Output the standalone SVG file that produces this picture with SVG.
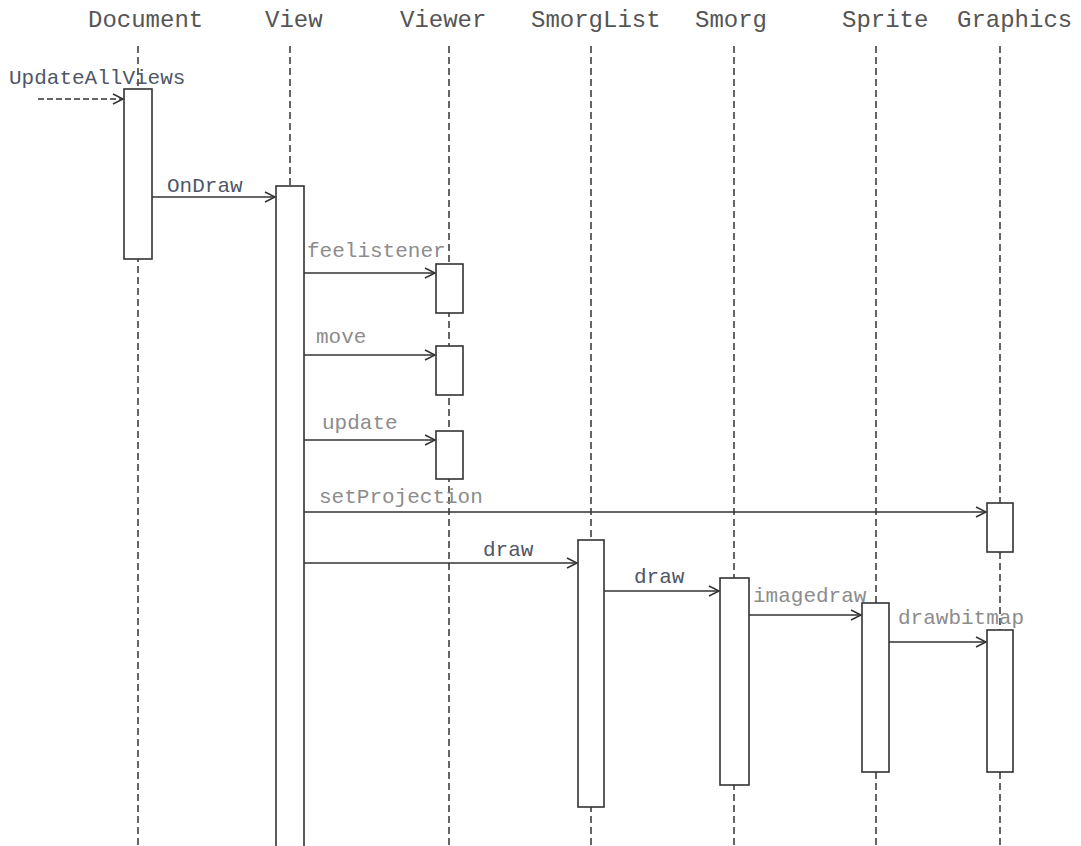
<svg xmlns="http://www.w3.org/2000/svg" width="1081" height="846" viewBox="0 0 1081 846">
<style>
.hdr{font-family:"Liberation Mono","Courier New",monospace;font-size:24px;fill:#555}
.lbl{font-family:"Liberation Mono","Courier New",monospace;font-size:21px}
.dk{fill:#4f5668}
.lt{fill:#8c8c8c}
.life{stroke:#333;stroke-width:1.5;stroke-dasharray:7,4;fill:none}
.act{fill:#fff;stroke:#333;stroke-width:1.6}
.msg{stroke:#333;stroke-width:1.5;fill:none;marker-end:url(#arr)}
.async{stroke:#333;stroke-width:1.5;fill:none;stroke-dasharray:6,3;marker-end:url(#arr)}
</style>
<defs>
<marker id="arr" markerWidth="14" markerHeight="12" refX="11" refY="6" orient="auto" markerUnits="userSpaceOnUse">
<path d="M1,1 L11,6 L1,11" fill="none" stroke="#333" stroke-width="1.5"/>
</marker>
</defs>
<rect width="1081" height="846" fill="#fff"/>

<g id="lifelines">
<line class="life" x1="138" y1="46" x2="138" y2="846"/>
<line class="life" x1="290" y1="46" x2="290" y2="846"/>
<line class="life" x1="449" y1="46" x2="449" y2="846"/>
<line class="life" x1="591" y1="46" x2="591" y2="846"/>
<line class="life" x1="734" y1="46" x2="734" y2="846"/>
<line class="life" x1="876" y1="46" x2="876" y2="846"/>
<line class="life" x1="1000" y1="46" x2="1000" y2="846"/>
</g>

<g id="Document">
<text class="hdr" x="88" y="27">Document</text>
<rect class="act" x="124" y="89" width="28" height="170"/>
</g>
<g id="View">
<text class="hdr" x="265" y="27">View</text>
<rect class="act" x="276" y="186" width="28" height="670"/>
</g>
<g id="Viewer">
<text class="hdr" x="400" y="27">Viewer</text>
<rect class="act" x="436" y="264" width="27" height="49"/>
<rect class="act" x="436" y="346" width="27" height="49"/>
<rect class="act" x="436" y="431" width="27" height="48"/>
</g>
<g id="SmorgList">
<text class="hdr" x="531" y="27">SmorgList</text>
<rect class="act" x="578" y="540" width="26" height="267"/>
</g>
<g id="Smorg">
<text class="hdr" x="695" y="27">Smorg</text>
<rect class="act" x="720" y="578" width="29" height="207"/>
</g>
<g id="Sprite">
<text class="hdr" x="842" y="27">Sprite</text>
<rect class="act" x="862" y="603" width="27" height="169"/>
</g>
<g id="Graphics">
<text class="hdr" x="957" y="27">Graphics</text>
<rect class="act" x="987" y="503" width="26" height="49"/>
<rect class="act" x="987" y="630" width="26" height="142"/>
</g>

<g id="connectors">
<line class="async" x1="38" y1="99" x2="123" y2="99"/>
<line class="msg" x1="152" y1="197" x2="275" y2="197"/>
<line class="msg" x1="304" y1="273" x2="435" y2="273"/>
<line class="msg" x1="304" y1="355" x2="435" y2="355"/>
<line class="msg" x1="304" y1="440" x2="435" y2="440"/>
<line class="msg" x1="304" y1="512" x2="986" y2="512"/>
<line class="msg" x1="304" y1="563" x2="577" y2="563"/>
<line class="msg" x1="604" y1="591" x2="719" y2="591"/>
<line class="msg" x1="749" y1="615" x2="861" y2="615"/>
<line class="msg" x1="889" y1="642" x2="986" y2="642"/>
</g>

<g id="labels">
<text class="lbl dk" x="9" y="84">UpdateAllViews</text>
<text class="lbl dk" x="167" y="192">OnDraw</text>
<text class="lbl lt" x="307" y="257">feelistener</text>
<text class="lbl lt" x="316" y="343">move</text>
<text class="lbl lt" x="322" y="429">update</text>
<text class="lbl lt" x="319" y="503">setProjection</text>
<text class="lbl dk" x="483" y="556">draw</text>
<text class="lbl dk" x="634" y="583">draw</text>
<text class="lbl lt" x="753" y="602">imagedraw</text>
<text class="lbl lt" x="898" y="624">drawbitmap</text>
</g>
</svg>
